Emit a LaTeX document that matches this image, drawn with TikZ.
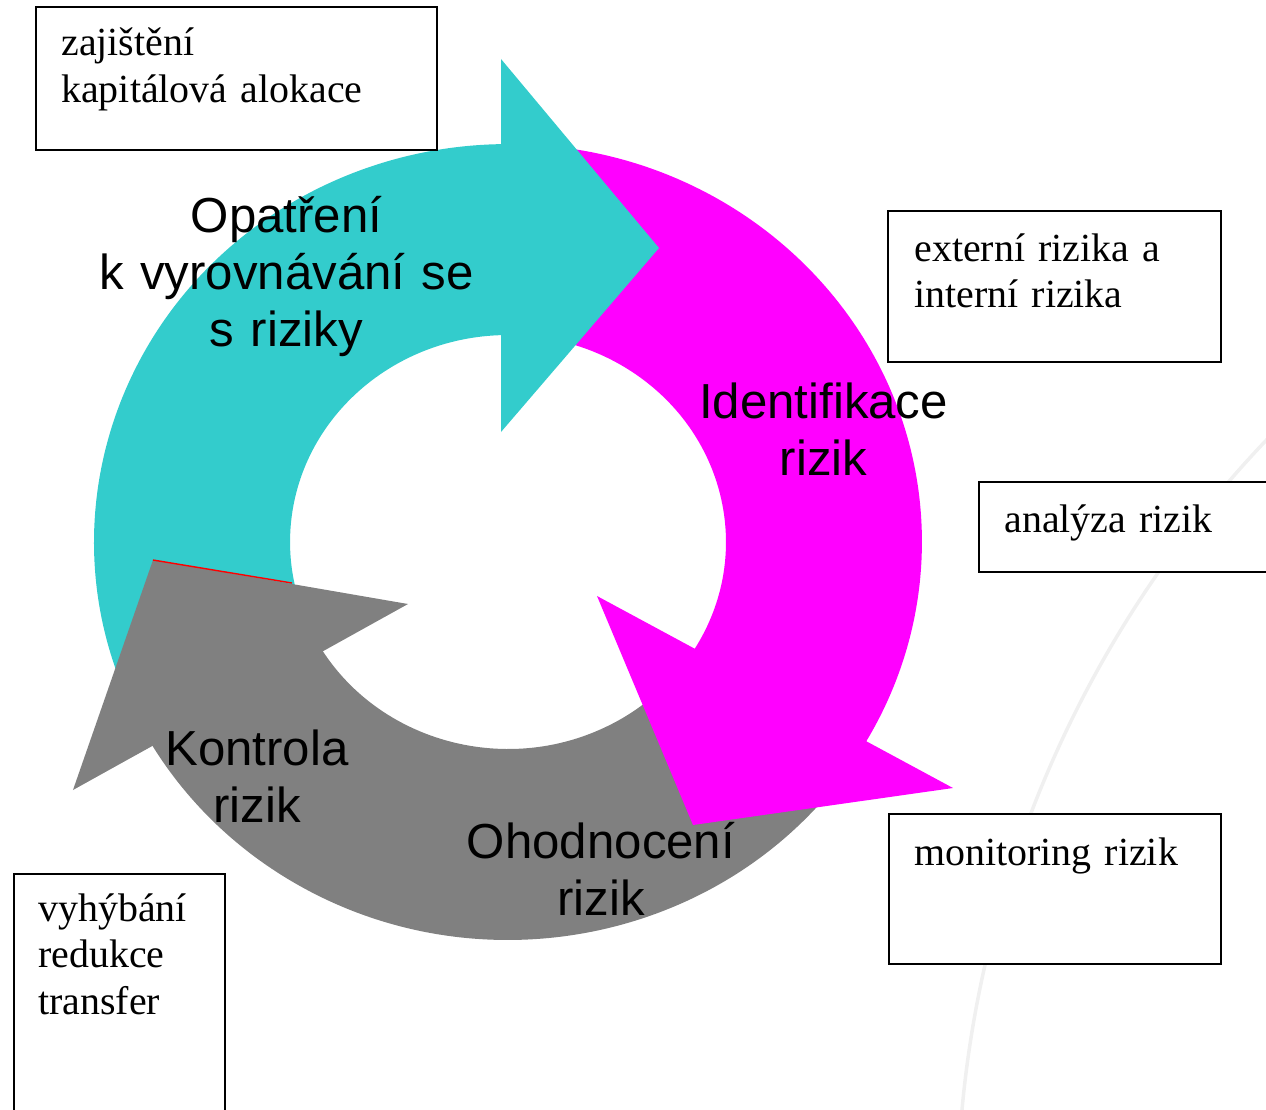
\documentclass[tikz,border=0pt]{standalone}
\usepackage{fontspec}
\setmainfont{Liberation Serif}
\newfontfamily\labelfont{Liberation Sans}

\definecolor{ringcyan}{RGB}{51,204,204}
\definecolor{ringmagenta}{RGB}{255,0,255}
\definecolor{ringgray}{RGB}{128,128,128}
\definecolor{faintarc}{RGB}{240,240,240}

\begin{document}
\begin{tikzpicture}[x=0.02cm, y=0.02cm,
  notebox/.style={draw=black, line width=1.4pt, fill=white, rectangle,
                  inner sep=0pt, anchor=north west},
  notetext/.style={font=\fontsize{22.7}{26.6}\selectfont, align=left,
                   text width=7cm, inner sep=0pt, anchor=base west},
  steplabel/.style={font=\labelfont\fontsize{28}{32.6}\selectfont, align=center,
                    text width=8cm, inner sep=0pt, anchor=base},
  shaft/.style={draw=none},
  head/.style={draw=none},
]
% canvas, centre of the ring at the origin
\useasboundingbox (-508,-567) rectangle (758,542);
\clip (-508,-567) rectangle (758,542);

% faint decorative arc in the background
\draw[faintarc, line width=2pt] (1570,-671) ++(128:22.42cm)
  arc[start angle=128, end angle=182, radius=22.42cm];

% ring shafts (outer ellipse 8.28/7.96 cm, inner 4.36/4.14 cm);
% each one starts and ends a little inside an arrow head
\fill[ringcyan, shaft] (208:8.28cm and 7.96cm)
  arc[start angle=208, end angle=88, x radius=8.28cm, y radius=7.96cm]
  -- (88:4.36cm and 4.14cm)
  arc[start angle=88, end angle=208, x radius=4.36cm, y radius=4.14cm] -- cycle;
\fill[ringmagenta, shaft] (88:8.28cm and 7.96cm)
  arc[start angle=88, end angle=-33, x radius=8.28cm, y radius=7.96cm]
  -- (-33:4.36cm and 4.14cm)
  arc[start angle=-33, end angle=88, x radius=4.36cm, y radius=4.14cm] -- cycle;
\fill[ringgray, shaft] (-33:8.28cm and 7.96cm)
  arc[start angle=-33, end angle=-152, x radius=8.28cm, y radius=7.96cm]
  -- (-152:4.36cm and 4.14cm)
  arc[start angle=-152, end angle=-33, x radius=4.36cm, y radius=4.14cm] -- cycle;

% arrow heads
\fill[ringcyan, head] (-7,483) -- (151,294) -- (-7,110) -- cycle;
\fill[ringmagenta, head] (445,-246) -- (185,-283) -- (89,-54) -- cycle;
\fill[ringgray, head] (-435,-248) -- (-355,-18) -- (-100,-62) -- cycle;
\draw[red, line width=0.8pt] (-355,-18) -- (-216,-41);

% step labels
\node[steplabel] (opatreni) at (-221.5,310) {Opatření\\k vyrovnávání se\\s riziky};
\node[steplabel] (identifikace) at (315.5,124) {Identifikace\\rizik};
\node[steplabel] (ohodnoceni) at (93,-316) {Ohodnocení\\rizik};
\node[steplabel] (kontrola) at (-251,-223) {Kontrola\\rizik};

% note boxes
\node[notebox, minimum width=8.02cm, minimum height=2.86cm] (boxzaj) at (-473,536) {};
\node[notetext] (txtzaj) at (-447,486) {zajištění\\kapitálová alokace};

\node[notebox, minimum width=6.66cm, minimum height=3.02cm] (boxext) at (379,332) {};
\node[notetext] (txtext) at (406,281) {externí rizika a\\interní rizika};

\node[notebox, minimum width=6.6cm, minimum height=1.8cm] (boxana) at (470,61) {};
\node[notetext] (txtana) at (496,10) {analýza rizik};

\node[notebox, minimum width=6.64cm, minimum height=3.0cm] (boxmon) at (380,-271) {};
\node[notetext] (txtmon) at (406,-323) {monitoring rizik};

\node[notebox, minimum width=4.22cm, minimum height=5.4cm] (boxvyh) at (-495,-331) {};
\node[notetext] (txtvyh) at (-470,-379) {vyhýbání\\redukce\\transfer};
\end{tikzpicture}
\end{document}
